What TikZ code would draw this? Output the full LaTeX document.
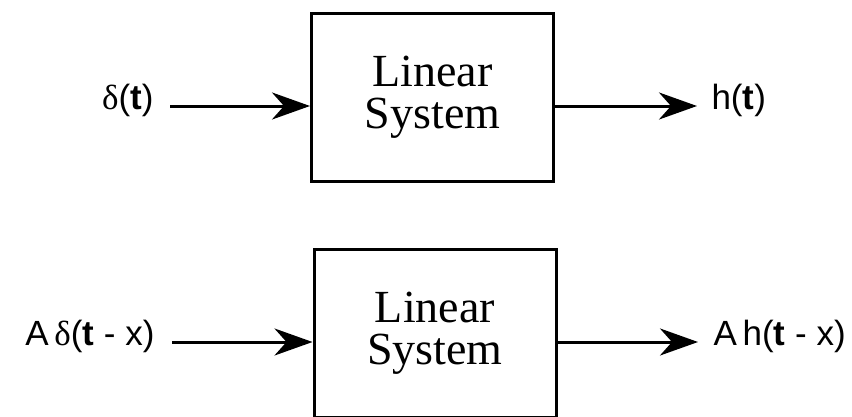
\documentclass[tikz,border=0pt]{standalone}
\usepackage{fontspec}
\setmainfont{Liberation Serif}
\setsansfont{Liberation Sans}
\newfontfamily\grk{Liberation Serif}
\usetikzlibrary{arrows.meta}

\begin{document}
\begin{tikzpicture}[x=1pt, y=-1pt, line width=3pt,
    sysbox/.style={draw, rectangle, minimum width=242pt, minimum height=168pt, inner sep=0pt,
        align=center, font=\fontsize{46}{42}\selectfont},
    sig/.style={inner sep=0pt, text height=0.74em, text depth=0pt, font=\sffamily\fontsize{35}{40}\selectfont},
    arr/.style={-{Stealth[length=38pt, width=27pt, inset=12pt]}}]
    \useasboundingbox (0,0) rectangle (852,416);

    % 上：单位冲激输入，输出为冲激响应
    \node[sysbox] (sys1) at (432.5,97.5) {Linear\\System};
    \node[sig, anchor=east] (in1) at (155,106) {{\grk δ}(\textbf{t})};
    \node[sig, anchor=west] (out1) at (710,106) {h(\textbf{t})};

    % 下：平移并放大后的冲激
    \node[sysbox] (sys2) at (435,333.5) {Linear\\System};
    \node[sig, anchor=east] (in2) at (156,342) {A\,{\grk δ}(\textbf{t} - x)};
    \node[sig, anchor=west] (out2) at (712,342) {A\,h(\textbf{t} - x)};

    % 连线
    \draw[arr, shorten <=15pt] (in1) -- (in1 -| sys1.west);
    \draw[arr, shorten >=13pt] (out1 -| sys1.east) -- (out1);
    \draw[arr, shorten <=16pt] (in2) -- (in2 -| sys2.west);
    \draw[arr, shorten >=14pt] (out2 -| sys2.east) -- (out2);
\end{tikzpicture}
\end{document}
